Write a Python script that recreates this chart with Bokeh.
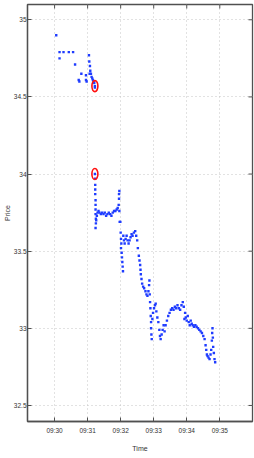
import math
from bokeh.plotting import figure
from bokeh.models import FixedTicker, Range1d, ColumnDataSource
from bokeh.embed import file_html
from bokeh.resources import INLINE

# time in minutes after 09:00, price
t_pre = [30.05, 30.15, 30.15, 30.27, 30.43, 30.56, 30.62, 30.73, 30.75, 30.81,
         30.95, 30.95, 30.97, 31.04, 31.05, 31.07, 31.08, 31.06, 31.10, 31.12,
         31.14, 31.16, 31.18, 31.20, 31.22, 31.22]
p_pre = [34.90, 34.79, 34.75, 34.79, 34.79, 34.79, 34.71, 34.61, 34.60, 34.65,
         34.64, 34.61, 34.60, 34.77, 34.73, 34.70, 34.67, 34.65, 34.65, 34.63,
         34.62, 34.61, 34.60, 34.59, 34.57, 34.56]

t_mid = [31.22, 31.23, 31.23, 31.23, 31.23, 31.24, 31.24, 31.24, 31.24, 31.25,
         31.25, 31.24, 31.26, 31.28, 31.30, 31.33, 31.36, 31.40, 31.44, 31.48,
         31.52, 31.56, 31.60, 31.64, 31.68, 31.72, 31.76, 31.80, 31.84, 31.88,
         31.91, 31.94, 31.95, 31.95, 31.96, 31.96, 31.97]
p_mid = [34.00, 33.97, 33.93, 33.90, 33.87, 33.83, 33.80, 33.77, 33.74, 33.71,
         33.68, 33.65, 33.70, 33.73, 33.75, 33.76, 33.75, 33.74, 33.75, 33.74,
         33.75, 33.73, 33.74, 33.75, 33.74, 33.73, 33.75, 33.76, 33.76, 33.77,
         33.78, 33.80, 33.84, 33.87, 33.89, 33.76, 33.69]

t_post = [31.99, 32.00, 32.01, 32.02, 32.01, 32.03, 32.04, 32.05, 32.06, 32.07,
          32.08, 32.10, 32.12, 32.15, 32.18, 32.21, 32.24, 32.27, 32.30, 32.33,
          32.36, 32.40, 32.44, 32.47, 32.50, 32.52, 32.55, 32.57, 32.59, 32.60,
          32.61, 32.63, 32.65, 32.68, 32.71, 32.75, 32.78, 32.81, 32.84, 32.86,
          32.87, 32.88, 32.89, 32.90, 32.91, 32.92, 32.92, 32.93, 32.94, 32.96,
          32.98, 33.01, 33.04, 33.06, 33.08, 33.11, 33.14, 33.17, 33.19, 33.21,
          33.24, 33.27, 33.30, 33.33, 33.36, 33.40, 33.44, 33.48, 33.52, 33.56,
          33.60, 33.64, 33.68, 33.72, 33.76, 33.80, 33.84, 33.88, 33.91, 33.93,
          33.95, 33.97, 34.00, 34.03, 34.06, 34.09, 34.12, 34.15, 34.18, 34.22,
          34.26, 34.30, 34.34, 34.38, 34.42, 34.46, 34.50, 34.54, 34.57, 34.59,
          34.61, 34.63, 34.66, 34.69, 34.72, 34.74, 34.76, 34.77, 34.78, 34.79,
          34.80, 34.82, 34.84, 34.86]
p_post = [33.69, 33.62, 33.58, 33.55, 33.52, 33.49, 33.46, 33.43, 33.40, 33.37,
          33.60, 33.57, 33.55, 33.58, 33.60, 33.57, 33.55, 33.57, 33.59, 33.61,
          33.60, 33.62, 33.63, 33.60, 33.57, 33.52, 33.47, 33.44, 33.41, 33.38,
          33.35, 33.32, 33.29, 33.27, 33.26, 33.24, 33.22, 33.21, 33.24, 33.28,
          33.31, 33.22, 33.17, 33.13, 33.08, 33.04, 33.00, 32.96, 32.93, 33.06,
          33.10, 33.13, 33.15, 33.16, 33.11, 33.07, 33.04, 32.99, 32.95, 32.93,
          32.96, 32.99, 33.02, 32.98, 33.02, 33.05, 33.08, 33.10, 33.12, 33.13,
          33.12, 33.14, 33.13, 33.15, 33.13, 33.12, 33.15, 33.17, 33.14, 33.06,
          33.10, 33.07, 33.05, 33.08, 33.04, 33.02, 33.05, 33.03, 33.02, 33.01,
          33.02, 33.01, 33.00, 32.99, 32.98, 32.97, 32.95, 32.93, 32.89, 32.86,
          32.83, 32.82, 32.81, 32.80, 32.83, 32.86, 32.92, 32.97, 33.00, 32.94,
          32.88, 32.84, 32.80, 32.78]

# highlighted trades
t_mark = [31.22, 31.22]
p_mark = [34.57, 34.00]

x_ticks = [30, 31, 32, 33, 34, 35]
x_labels = ["09:30", "09:31", "09:32", "09:33", "09:34", "09:35"]
y_ticks = [32.5, 33, 33.5, 34, 34.5, 35]

X0, X1 = 29.18, 35.99
Y0, Y1 = 32.396, 35.099

FONT = "Liberation Sans"
AX = "#505050"
TXT = "#333333"

p = figure(width=254, height=458, output_backend="svg", toolbar_location=None,
           x_range=Range1d(X0, X1), y_range=Range1d(Y0, Y1),
           min_border_left=21, min_border_right=2, min_border_top=4,
           min_border_bottom=37, x_axis_label="Time", y_axis_label="Price")
p.background_fill_color = "white"
p.border_fill_color = "white"
p.outline_line_color = AX
p.outline_line_width = 1.3

p.xgrid.ticker = FixedTicker(ticks=x_ticks)
p.ygrid.ticker = FixedTicker(ticks=y_ticks)
p.grid.grid_line_color = "#c4c4c4"
p.grid.grid_line_dash = "1 3"
p.grid.grid_line_width = 1

src = ColumnDataSource(dict(t=t_pre + t_mid + t_post, p=p_pre + p_mid + p_post))
p.scatter("t", "p", source=src, marker="square", size=2.4, color="#1f3cff",
          line_color=None)
p.ellipse(x=t_mark, y=p_mark, width=6, height=11, width_units="screen",
          height_units="screen", fill_color=None, line_color="#ff1010",
          line_width=1.6)

# inward tick marks on the top and right edges of the box (clipped to frame)
p.scatter(x=x_ticks, y=[Y1] * len(x_ticks), marker="dash", angle=math.pi / 2,
          size=8, line_color=AX, line_width=1)
p.scatter(x=[X1] * len(y_ticks), y=y_ticks, marker="dash", size=8,
          line_color=AX, line_width=1)

p.xaxis.ticker = FixedTicker(ticks=x_ticks)
p.xaxis.major_label_overrides = {k: v for k, v in zip(x_ticks, x_labels)}
p.yaxis.ticker = FixedTicker(ticks=y_ticks)

for ax in p.axis:
    ax.axis_line_color = AX
    ax.axis_line_width = 1.3
    ax.major_tick_line_color = AX
    ax.major_tick_in = 4
    ax.major_tick_out = 0
    ax.minor_tick_line_color = None
    ax.major_label_text_font = FONT
    ax.major_label_text_font_size = "6.5px"
    ax.major_label_text_color = TXT
    ax.axis_label_text_font = FONT
    ax.axis_label_text_font_size = "7px"
    ax.axis_label_text_font_style = "normal"
    ax.axis_label_text_color = TXT

p.xaxis.major_label_standoff = 5
p.xaxis.axis_label_standoff = 8
p.yaxis.major_label_standoff = 1
p.yaxis.axis_label_standoff = 0

open("out.html", "w").write(file_html(p, INLINE))
